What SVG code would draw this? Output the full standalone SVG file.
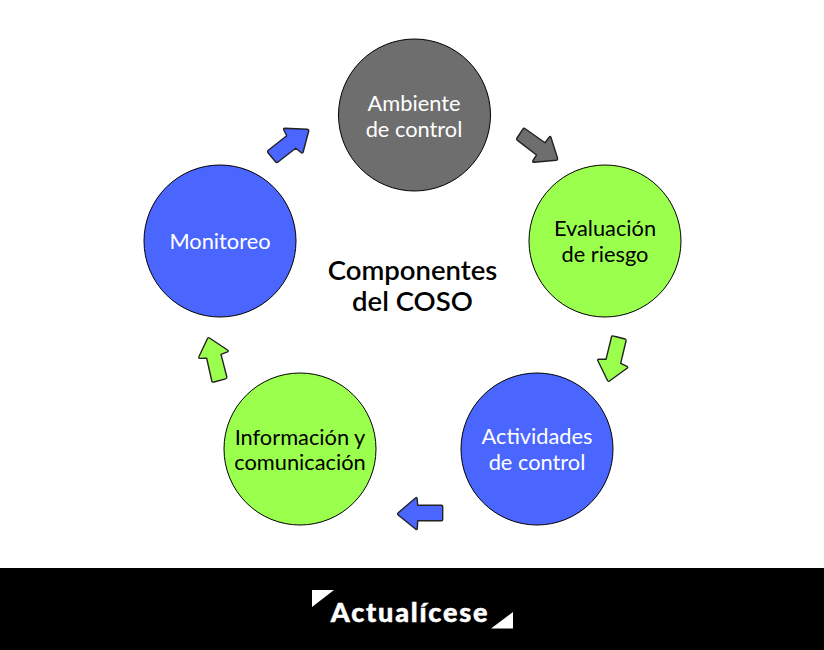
<svg xmlns="http://www.w3.org/2000/svg" width="824" height="650" viewBox="0 0 824 650">
<style>
.c{stroke:#000;stroke-width:1}
.a{stroke:#222;stroke-width:1.400;stroke-linejoin:round}
.gray{fill:#6e6e6e}.blue{fill:#4a66ff}.green{fill:#9aff4d}
text{font-family:Lato,"Open Sans","Liberation Sans",sans-serif;text-anchor:middle}
.l{font-size:21.800px}.w{fill:#fff}.k{fill:#000}
.t{font-size:27.500px;font-weight:600;fill:#000}
</style>
<rect width="824" height="650" fill="#fff"/>
<g id="connectors">
<path class="a gray" d="M525.200 128.800Q524 127.600 523 129L517 138Q516 139.500 517.500 140.400L536.500 155L533 160.500Q532 162.500 534.500 162.300L556 160.300Q558 160 557.500 158L551 137.500Q550.200 135.500 549 137.500L545 142.700Z"/>
<path class="a green" d="M613.500 336L625 339Q626.300 339.400 626 341L620.700 363.300L627 366.300Q628.600 367.300 627 368.300L609.500 381Q608.300 382 607.500 380.500L598 361Q597 359.300 599 359.300L606 359.300L611.500 337Q612 335.400 613.500 336Z"/>
<path class="a blue" d="M441.500 505.300Q442.700 505.300 442.700 506.500L442.700 519.500Q442.700 520.700 441.500 520.700L417.700 520.700L417.300 528.500Q417 530.500 415.500 529L398.500 515.200Q396.800 514 398.500 512.500L415.500 498Q417 496.800 417.200 499L417.700 505.300Z"/>
<path class="a green" d="M214 382L225.500 378.800Q227.200 378.300 226.800 376.800L221 354.300L227.500 351.800Q229 351 227.500 350L209.500 338Q208.300 337 207.500 338.500L199 356.500Q198 358.500 200 358.400L206.700 358.300L211.800 381Q212.200 382.500 214 382Z"/>
<path class="a blue" d="M268 150.500Q267 151.500 268 152.800L275.500 161.800Q276.700 163.200 278 162L295.700 148.300L301 152.500Q302.800 153.800 303.300 151.500L308.700 131Q309 129.300 307 129.200L285 128.300Q283 128.300 283.800 130L286.700 135.700Z"/>
</g>
<g id="ambiente"><circle class="c gray" cx="414.500" cy="115" r="76"/><text class="l w" x="414" y="110.500">Ambiente</text><text class="l w" x="414" y="136.500">de control</text></g>
<g id="evaluacion"><circle class="c green" cx="605" cy="241" r="76"/><text class="l k" x="605" y="236">Evaluación</text><text class="l k" x="605" y="262">de riesgo</text></g>
<g id="actividades"><circle class="c blue" cx="537" cy="449" r="76"/><text class="l w" x="537" y="444">Actividades</text><text class="l w" x="537" y="470">de control</text></g>
<g id="informacion"><circle class="c green" cx="300" cy="449" r="76"/><text class="l k" x="300" y="445">Información y</text><text class="l k" x="300" y="470">comunicación</text></g>
<g id="monitoreo"><circle class="c blue" cx="220" cy="241" r="76"/><text class="l w" x="220" y="249">Monitoreo</text></g>
<g id="title"><text class="t" x="412.500" y="280">Componentes</text><text class="t" x="412.500" y="311">del COSO</text></g>
<g id="footer">
<rect x="0" y="568" width="824" height="82" fill="#000"/>
<path fill="#fff" d="M312 590H334L312 607ZM513 612V628.500H491Z"/>
<text x="410" y="622" fill="#fff" stroke="#fff" stroke-width="0.500" font-size="27" font-weight="900" letter-spacing="1.800">Actualícese</text>
</g>
</svg>
